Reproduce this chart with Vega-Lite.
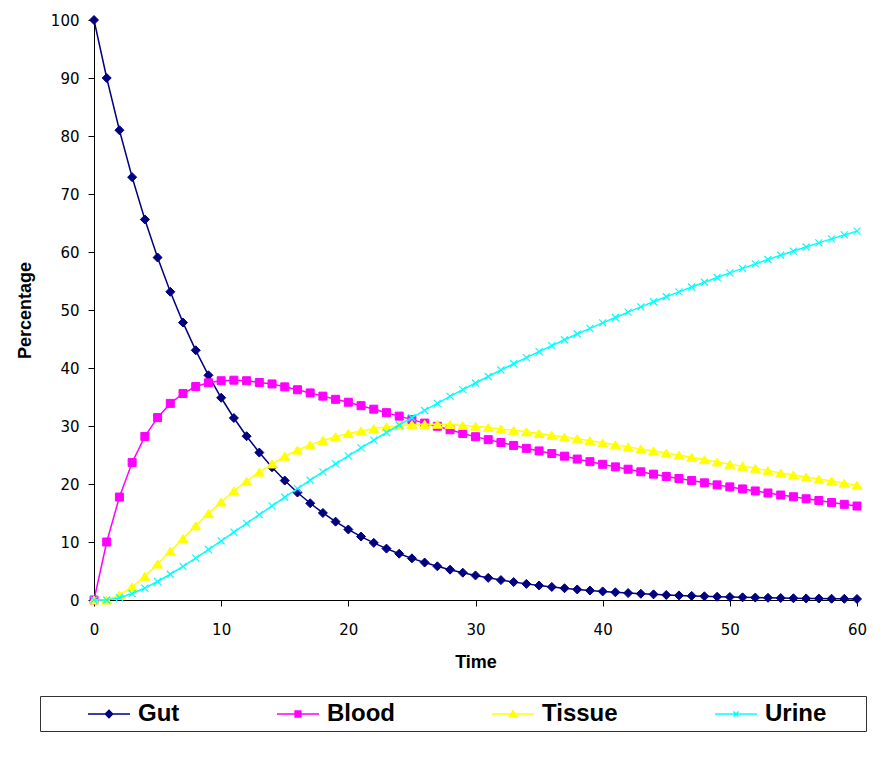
{
  "$schema": "https://vega.github.io/schema/vega-lite/v6.json",
  "width": 763,
  "height": 580,
  "autosize": "none",
  "padding": {"left": 94, "top": 20, "right": 34, "bottom": 157},
  "background": "white",
  "config": {"view": {"stroke": null}, "font": "Liberation Sans"},
  "data": {"values": [
    {"t":0,"Gut":100,"Blood":0,"Tissue":0,"Urine":0},
    {"t":1,"Gut":90,"Blood":10,"Tissue":0,"Urine":0},
    {"t":2,"Gut":81,"Blood":17.75,"Tissue":0.85,"Urine":0.4},
    {"t":3,"Gut":72.9,"Blood":23.7,"Tissue":2.25,"Urine":1.11},
    {"t":4,"Gut":65.61,"Blood":28.2,"Tissue":4.1,"Urine":2.06},
    {"t":5,"Gut":59.05,"Blood":31.45,"Tissue":6.2,"Urine":3.19},
    {"t":6,"Gut":53.14,"Blood":33.9,"Tissue":8.4,"Urine":4.44},
    {"t":7,"Gut":47.83,"Blood":35.6,"Tissue":10.6,"Urine":5.8},
    {"t":8,"Gut":43.05,"Blood":36.8,"Tissue":12.8,"Urine":7.22},
    {"t":9,"Gut":38.74,"Blood":37.45,"Tissue":14.9,"Urine":8.7},
    {"t":10,"Gut":34.87,"Blood":37.8,"Tissue":16.9,"Urine":10.19},
    {"t":11,"Gut":31.38,"Blood":37.9,"Tissue":18.8,"Urine":11.71},
    {"t":12,"Gut":28.24,"Blood":37.8,"Tissue":20.5,"Urine":13.22},
    {"t":13,"Gut":25.42,"Blood":37.5,"Tissue":22.05,"Urine":14.73},
    {"t":14,"Gut":22.88,"Blood":37.25,"Tissue":23.45,"Urine":16.23},
    {"t":15,"Gut":20.59,"Blood":36.75,"Tissue":24.8,"Urine":17.72},
    {"t":16,"Gut":18.53,"Blood":36.25,"Tissue":25.85,"Urine":19.19},
    {"t":17,"Gut":16.68,"Blood":35.7,"Tissue":26.75,"Urine":20.65},
    {"t":18,"Gut":15.01,"Blood":35.15,"Tissue":27.5,"Urine":22.08},
    {"t":19,"Gut":13.51,"Blood":34.6,"Tissue":28.15,"Urine":23.48},
    {"t":20,"Gut":12.16,"Blood":34.1,"Tissue":28.7,"Urine":24.86},
    {"t":21,"Gut":10.94,"Blood":33.5,"Tissue":29.15,"Urine":26.23},
    {"t":22,"Gut":9.85,"Blood":32.9,"Tissue":29.55,"Urine":27.56},
    {"t":23,"Gut":8.86,"Blood":32.3,"Tissue":29.85,"Urine":28.88},
    {"t":24,"Gut":7.98,"Blood":31.7,"Tissue":30.1,"Urine":30.17},
    {"t":25,"Gut":7.18,"Blood":31.1,"Tissue":30.25,"Urine":31.43},
    {"t":26,"Gut":6.46,"Blood":30.5,"Tissue":30.3,"Urine":32.68},
    {"t":27,"Gut":5.81,"Blood":29.95,"Tissue":30.3,"Urine":33.9},
    {"t":28,"Gut":5.23,"Blood":29.35,"Tissue":30.25,"Urine":35.1},
    {"t":29,"Gut":4.71,"Blood":28.7,"Tissue":30.1,"Urine":36.28},
    {"t":30,"Gut":4.24,"Blood":28.15,"Tissue":29.95,"Urine":37.42},
    {"t":31,"Gut":3.82,"Blood":27.65,"Tissue":29.75,"Urine":38.54},
    {"t":32,"Gut":3.43,"Blood":27.15,"Tissue":29.5,"Urine":39.65},
    {"t":33,"Gut":3.09,"Blood":26.65,"Tissue":29.25,"Urine":40.73},
    {"t":34,"Gut":2.78,"Blood":26.15,"Tissue":29.0,"Urine":41.79},
    {"t":35,"Gut":2.5,"Blood":25.7,"Tissue":28.7,"Urine":42.83},
    {"t":36,"Gut":2.25,"Blood":25.25,"Tissue":28.4,"Urine":43.86},
    {"t":37,"Gut":2.03,"Blood":24.8,"Tissue":28.1,"Urine":44.87},
    {"t":38,"Gut":1.82,"Blood":24.3,"Tissue":27.8,"Urine":45.86},
    {"t":39,"Gut":1.64,"Blood":23.85,"Tissue":27.45,"Urine":46.83},
    {"t":40,"Gut":1.48,"Blood":23.4,"Tissue":27.1,"Urine":47.78},
    {"t":41,"Gut":1.33,"Blood":22.95,"Tissue":26.75,"Urine":48.71},
    {"t":42,"Gut":1.2,"Blood":22.55,"Tissue":26.4,"Urine":49.63},
    {"t":43,"Gut":1.08,"Blood":22.1,"Tissue":26.05,"Urine":50.53},
    {"t":44,"Gut":0.97,"Blood":21.7,"Tissue":25.7,"Urine":51.42},
    {"t":45,"Gut":0.87,"Blood":21.3,"Tissue":25.35,"Urine":52.28},
    {"t":46,"Gut":0.79,"Blood":20.95,"Tissue":25.0,"Urine":53.13},
    {"t":47,"Gut":0.71,"Blood":20.6,"Tissue":24.6,"Urine":53.97},
    {"t":48,"Gut":0.64,"Blood":20.2,"Tissue":24.2,"Urine":54.79},
    {"t":49,"Gut":0.57,"Blood":19.85,"Tissue":23.8,"Urine":55.6},
    {"t":50,"Gut":0.52,"Blood":19.5,"Tissue":23.4,"Urine":56.4},
    {"t":51,"Gut":0.46,"Blood":19.15,"Tissue":23.05,"Urine":57.18},
    {"t":52,"Gut":0.42,"Blood":18.8,"Tissue":22.7,"Urine":57.94},
    {"t":53,"Gut":0.38,"Blood":18.45,"Tissue":22.3,"Urine":58.7},
    {"t":54,"Gut":0.34,"Blood":18.1,"Tissue":21.9,"Urine":59.44},
    {"t":55,"Gut":0.3,"Blood":17.8,"Tissue":21.55,"Urine":60.16},
    {"t":56,"Gut":0.27,"Blood":17.45,"Tissue":21.2,"Urine":60.87},
    {"t":57,"Gut":0.25,"Blood":17.15,"Tissue":20.85,"Urine":61.57},
    {"t":58,"Gut":0.22,"Blood":16.8,"Tissue":20.5,"Urine":62.26},
    {"t":59,"Gut":0.2,"Blood":16.5,"Tissue":20.15,"Urine":62.94},
    {"t":60,"Gut":0.18,"Blood":16.2,"Tissue":19.8,"Urine":63.6}
  ]},
  "transform": [{"fold": ["Gut", "Blood", "Tissue", "Urine"], "as": ["series", "value"]}],
  "encoding": {
    "x": {
      "field": "t", "type": "quantitative",
      "scale": {"domain": [0, 60], "nice": false, "zero": false},
      "axis": {
        "title": "Time", "titleFont": "Liberation Sans", "titleFontSize": 18, "titleFontWeight": "bold",
        "titleColor": "black", "titlePadding": 16,
        "values": [0, 10, 20, 30, 40, 50, 60], "grid": false,
        "domainColor": "black", "domainWidth": 1, "tickColor": "black", "tickWidth": 1, "tickSize": 6,
        "labelFont": "DejaVu Sans", "labelFontSize": 15, "labelColor": "black", "labelPadding": 16,
        "labelFlush": false
      }
    },
    "y": {
      "field": "value", "type": "quantitative",
      "scale": {"domain": [0, 100], "nice": false},
      "axis": {
        "title": "Percentage", "titleFont": "Liberation Sans", "titleFontSize": 18, "titleFontWeight": "bold",
        "titleColor": "black", "titlePadding": 16,
        "values": [0, 10, 20, 30, 40, 50, 60, 70, 80, 90, 100], "grid": false,
        "domainColor": "black", "domainWidth": 1, "tickColor": "black", "tickWidth": 1, "tickSize": 6,
        "labelFont": "DejaVu Sans", "labelFontSize": 15, "labelColor": "black", "labelPadding": 9,
        "labelFlush": false
      }
    }
  },
  "layer": [
    {
      "transform": [{"filter": {"field": "t", "equal": 0}}],
      "mark": {"type": "point", "filled": true, "opacity": 0, "size": 100},
      "encoding": {
        "color": {
          "field": "series", "type": "nominal",
          "scale": {"domain": ["Gut", "Blood", "Tissue", "Urine"], "range": ["#000080", "#FF00FF", "#FFFF00", "#00FFFF"]},
          "legend": {
            "orient": "none", "legendX": -54, "legendY": 676, "direction": "horizontal",
            "title": " ", "titleOrient": "right", "titleFontSize": 6, "titlePadding": 35,
            "labelFont": "Liberation Sans", "labelFontSize": 24, "labelFontWeight": "bold", "labelColor": "black",
            "symbolSize": 576, "symbolStrokeWidth": 1.5, "symbolOffset": 51, "labelOffset": 16, "columnPadding": 54,
            "padding": 5, "strokeColor": "#333333", "fillColor": "white", "symbolOpacity": 1
          }
        },
        "shape": {
          "field": "series", "type": "nominal",
          "scale": {"domain": ["Gut", "Blood", "Tissue", "Urine"], "range": [
            "M-1.75,0H1.75M0,-0.3L0.3,0L0,0.3L-0.3,0Z",
            "M-1.75,0H1.75M-0.24,-0.24H0.24V0.24H-0.24Z",
            "M-1.75,0H1.75M0,-0.28L0.3,0.22L-0.3,0.22Z",
            "M-1.75,0H1.75M-0.21,-0.21L0.21,0.21M-0.21,0.21L0.21,-0.21"
          ]},
          "legend": {
            "orient": "none", "legendX": -54, "legendY": 676, "direction": "horizontal",
            "title": " ", "titleOrient": "right", "titleFontSize": 6, "titlePadding": 35,
            "labelFont": "Liberation Sans", "labelFontSize": 24, "labelFontWeight": "bold", "labelColor": "black",
            "symbolSize": 576, "symbolStrokeWidth": 1.5, "symbolOffset": 51, "labelOffset": 16, "columnPadding": 54,
            "padding": 5, "strokeColor": "#333333", "fillColor": "white", "symbolOpacity": 1
          }
        },
        "stroke": {
          "field": "series", "type": "nominal",
          "scale": {"domain": ["Gut", "Blood", "Tissue", "Urine"], "range": ["#000080", "#FF00FF", "#FFFF00", "#00FFFF"]},
          "legend": {
            "orient": "none", "legendX": -54, "legendY": 676, "direction": "horizontal",
            "title": " ", "titleOrient": "right", "titleFontSize": 6, "titlePadding": 35,
            "labelFont": "Liberation Sans", "labelFontSize": 24, "labelFontWeight": "bold", "labelColor": "black",
            "symbolSize": 576, "symbolStrokeWidth": 1.5, "symbolOffset": 51, "labelOffset": 16, "columnPadding": 54,
            "padding": 5, "strokeColor": "#333333", "fillColor": "white", "symbolOpacity": 1
          }
        }
      }
    },
    {
      "transform": [{"filter": {"field": "series", "equal": "Gut"}}],
      "layer": [
        {"mark": {"type": "line", "color": "#000080", "strokeWidth": 1.5}},
        {"mark": {"type": "point", "shape": "M0,-0.9L0.9,0L0,0.9L-0.9,0Z", "filled": true, "fill": "#000080", "stroke": "#000080", "strokeWidth": 1, "size": 100, "opacity": 1}}
      ]
    },
    {
      "transform": [{"filter": {"field": "series", "equal": "Blood"}}],
      "layer": [
        {"mark": {"type": "line", "color": "#FF00FF", "strokeWidth": 1.5}},
        {"mark": {"type": "point", "shape": "M-0.8,-0.8H0.8V0.8H-0.8Z", "filled": true, "fill": "#FF00FF", "stroke": "#FF00FF", "strokeWidth": 1, "size": 100, "opacity": 1}}
      ]
    },
    {
      "transform": [{"filter": {"field": "series", "equal": "Tissue"}}],
      "layer": [
        {"mark": {"type": "line", "color": "#FFFF00", "strokeWidth": 1.5}},
        {"mark": {"type": "point", "shape": "M0,-0.8L1,0.8L-1,0.8Z", "filled": true, "fill": "#FFFF00", "stroke": "#FFFF00", "strokeWidth": 1, "size": 100, "opacity": 1}}
      ]
    },
    {
      "transform": [{"filter": {"field": "series", "equal": "Urine"}}],
      "layer": [
        {"mark": {"type": "line", "color": "#00FFFF", "strokeWidth": 1.5}},
        {"mark": {"type": "point", "shape": "M-0.7,-0.7L0.7,0.7M-0.7,0.7L0.7,-0.7", "filled": false, "stroke": "#00FFFF", "strokeWidth": 1.2, "size": 100, "opacity": 1}}
      ]
    }
  ]
}
